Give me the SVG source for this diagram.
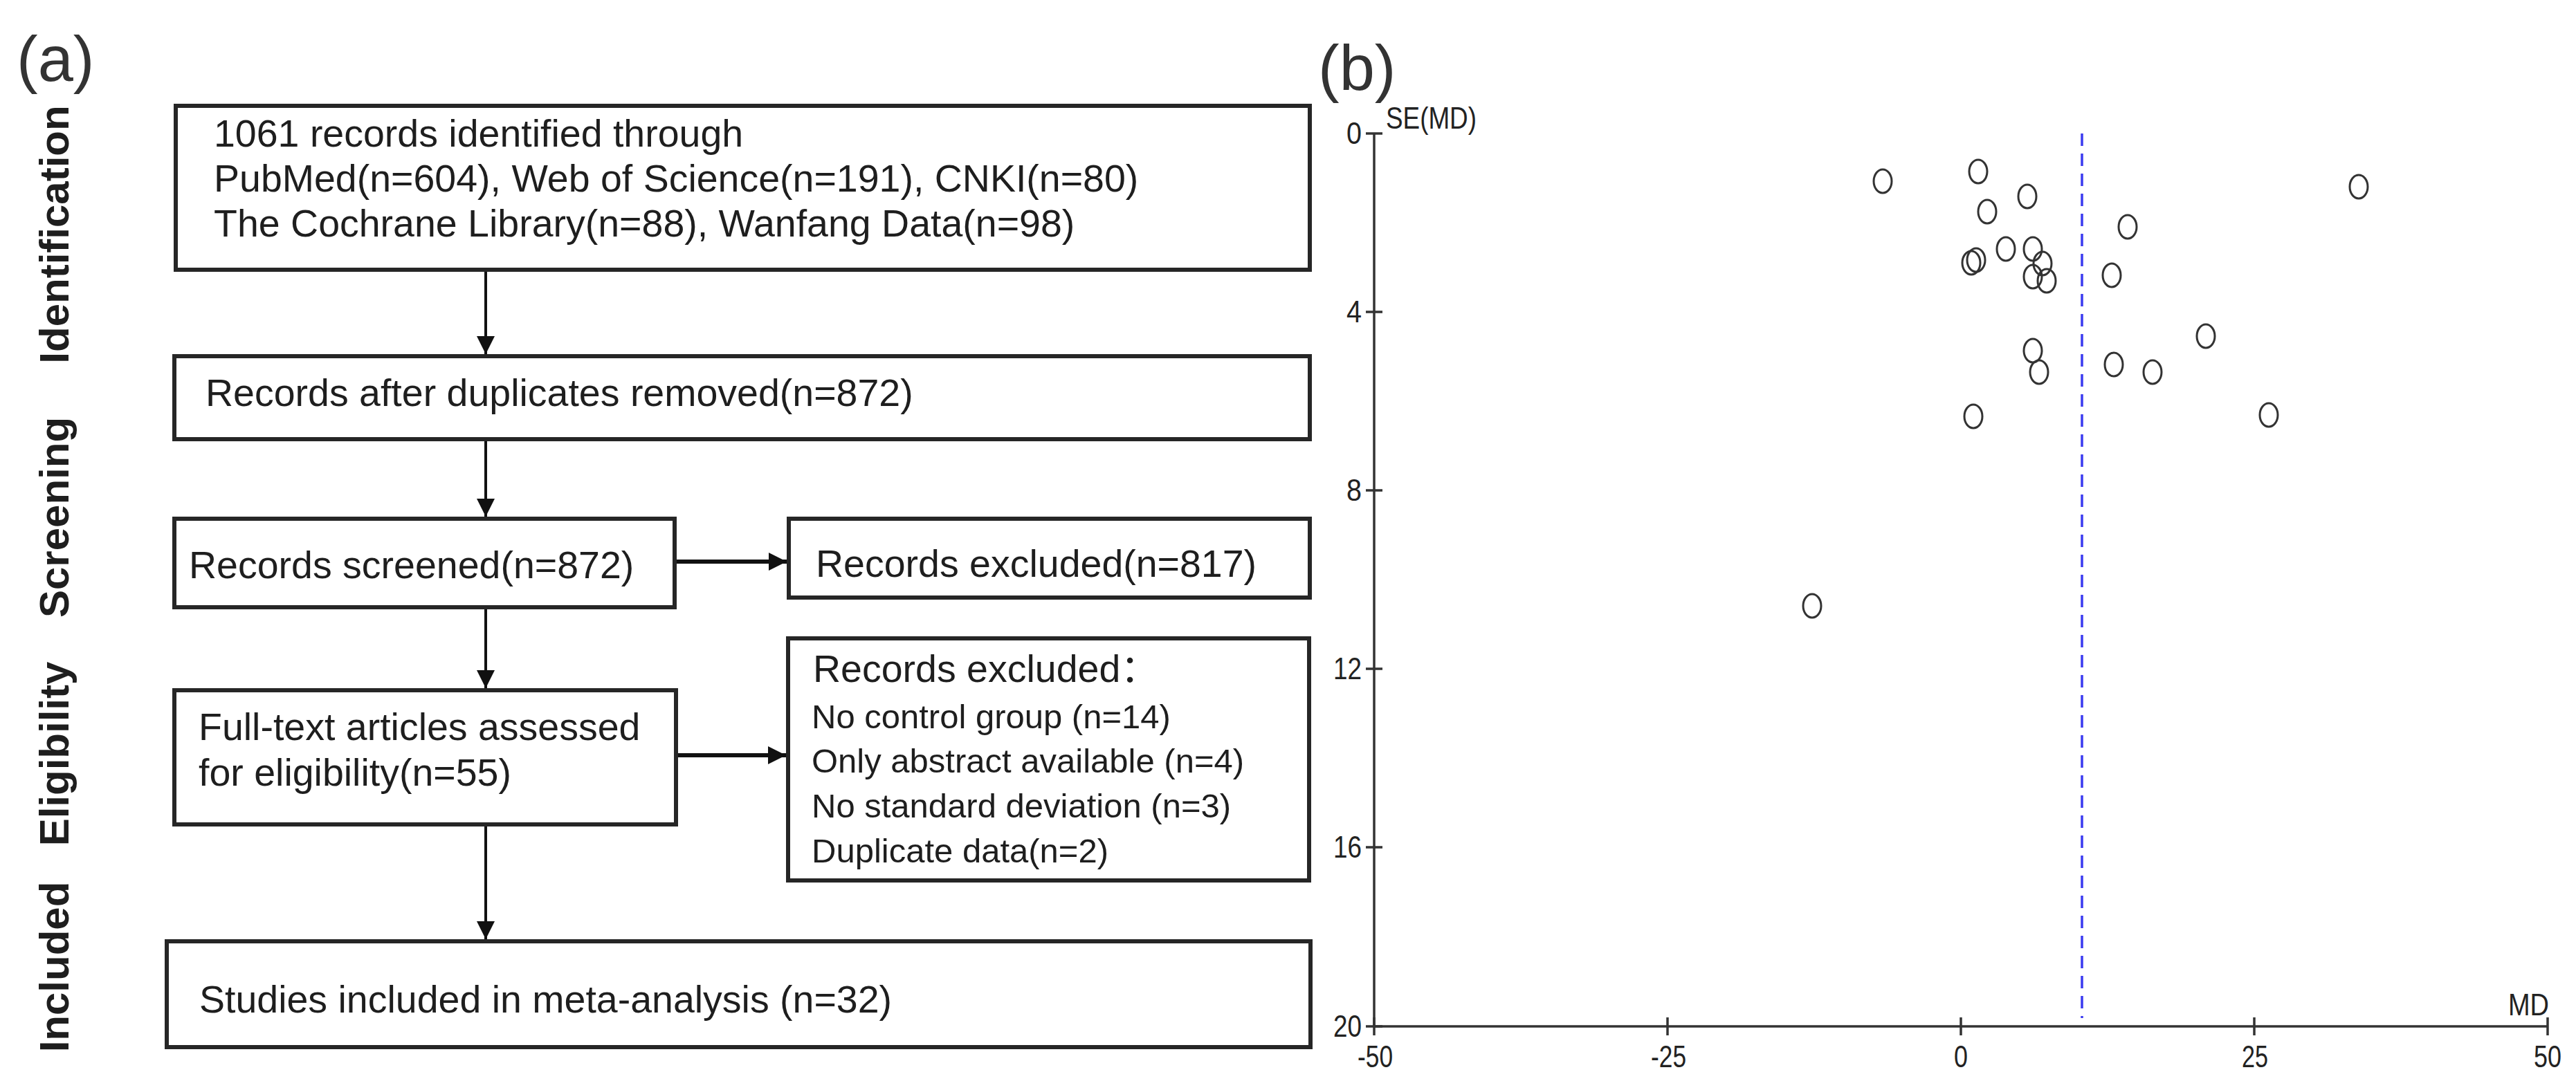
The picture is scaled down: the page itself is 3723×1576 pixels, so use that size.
<svg xmlns="http://www.w3.org/2000/svg" width="3723" height="1576" viewBox="0 0 3723 1576">
<defs>
<style>
.box{fill:#fff;stroke:#262626;stroke-width:6}
.t{font-family:"Liberation Sans",Arial,sans-serif;font-size:55.5px;fill:#1e1e1e}
.s{font-family:"Liberation Sans",Arial,sans-serif;font-size:49px;fill:#1e1e1e}
.stage{font-family:"Liberation Sans",Arial,sans-serif;font-size:60px;font-weight:bold;fill:#1e1e1e;text-anchor:middle}
.panel{font-family:"Liberation Sans",Arial,sans-serif;font-size:92px;fill:#333}
.ax{font-family:"Liberation Sans",Arial,sans-serif;font-size:44px;fill:#222}
.conn{stroke:#111;stroke-width:4;fill:none}
.connh{stroke:#111;stroke-width:6;fill:none}
.axis{stroke:#333;stroke-width:3.5;fill:none}
.pt{fill:none;stroke:#333;stroke-width:3}
</style>
<marker id="ah" viewBox="0 0 10 10" refX="10" refY="5" markerWidth="26" markerHeight="26" markerUnits="userSpaceOnUse" orient="auto">
<path d="M0,0 L10,5 L0,10 z" fill="#111"/>
</marker>
</defs>
<rect width="3723" height="1576" fill="#fff"/>

<!-- panel (a) -->
<text class="panel" x="24" y="117">(a)</text>
<g id="stage-labels">
<text class="stage" x="99" y="339" transform="rotate(-90 99 339)">Identification</text>
<text class="stage" x="99" y="748" transform="rotate(-90 99 748)">Screening</text>
<text class="stage" x="99" y="1090" transform="rotate(-90 99 1090)">Eligibility</text>
<text class="stage" x="99" y="1398" transform="rotate(-90 99 1398)">Included</text>
</g>

<g id="connectors">
<line class="conn" x1="702" y1="390" x2="702" y2="512" marker-end="url(#ah)"/>
<line class="conn" x1="702" y1="635" x2="702" y2="747" marker-end="url(#ah)"/>
<line class="connh" x1="975" y1="812" x2="1137" y2="812" marker-end="url(#ah)"/>
<line class="conn" x1="702" y1="878" x2="702" y2="995" marker-end="url(#ah)"/>
<line class="connh" x1="977" y1="1092" x2="1136" y2="1092" marker-end="url(#ah)"/>
<line class="conn" x1="702" y1="1192" x2="702" y2="1358" marker-end="url(#ah)"/>
</g>

<g id="node-identified">
<rect class="box" x="254" y="153" width="1639" height="237"/>
<text class="t" x="309" y="212">1061 records identified through</text>
<text class="t" x="309" y="277">PubMed(n=604), Web of Science(n=191), CNKI(n=80)</text>
<text class="t" x="309" y="342">The Cochrane Library(n=88), Wanfang Data(n=98)</text>
</g>
<g id="node-duplicates">
<rect class="box" x="252" y="515" width="1641" height="120"/>
<text class="t" x="297" y="587">Records after duplicates removed(n=872)</text>
</g>
<g id="node-screened">
<rect class="box" x="252" y="750" width="723" height="128"/>
<text class="t" x="273" y="836">Records screened(n=872)</text>
</g>
<g id="node-excluded1">
<rect class="box" x="1140" y="750" width="753" height="114"/>
<text class="t" x="1179" y="834">Records excluded(n=817)</text>
</g>
<g id="node-fulltext">
<rect class="box" x="252" y="998" width="725" height="194"/>
<text class="t" x="287" y="1070">Full-text articles assessed</text>
<text class="t" x="287" y="1136">for eligibility(n=55)</text>
</g>
<g id="node-excluded2">
<rect class="box" x="1139" y="923" width="753" height="350"/>
<text class="t" x="1175" y="986">Records excluded<tspan font-family="'Noto Sans CJK SC',sans-serif">：</tspan></text>
<text class="s" x="1173" y="1053">No control group (n=14)</text>
<text class="s" x="1173" y="1117">Only abstract available (n=4)</text>
<text class="s" x="1173" y="1182">No standard deviation (n=3)</text>
<text class="s" x="1173" y="1247">Duplicate data(n=2)</text>
</g>
<g id="node-included">
<rect class="box" x="241" y="1361" width="1653" height="153"/>
<text class="t" x="288" y="1464">Studies included in meta-analysis (n=32)</text>
</g>

<!-- panel (b) funnel plot -->
<text class="panel" x="1905" y="130">(b)</text>
<g id="funnel-axes">
<line class="axis" x1="1986" y1="193" x2="1986" y2="1484"/>
<line class="axis" x1="1986" y1="1484" x2="3682" y2="1484"/>
<path class="axis" d="M1974 193H1998M1974 451H1998M1974 709H1998M1974 967H1998M1974 1225H1998M1974 1484H1998"/>
<path class="axis" d="M1986 1471V1497M2410 1471V1497M2834 1471V1497M3258 1471V1497M3682 1471V1497"/>
<g class="ax">
<text x="1946" y="208" textLength="22" lengthAdjust="spacingAndGlyphs">0</text>
<text x="1946" y="466" textLength="22" lengthAdjust="spacingAndGlyphs">4</text>
<text x="1946" y="724" textLength="22" lengthAdjust="spacingAndGlyphs">8</text>
<text x="1927" y="982" textLength="41" lengthAdjust="spacingAndGlyphs">12</text>
<text x="1927" y="1240" textLength="41" lengthAdjust="spacingAndGlyphs">16</text>
<text x="1927" y="1499" textLength="41" lengthAdjust="spacingAndGlyphs">20</text>
</g>
<g class="ax">
<text x="1962" y="1543" textLength="51" lengthAdjust="spacingAndGlyphs">-50</text>
<text x="2386" y="1543" textLength="51" lengthAdjust="spacingAndGlyphs">-25</text>
<text x="2824" y="1543" textLength="20" lengthAdjust="spacingAndGlyphs">0</text>
<text x="3240" y="1543" textLength="38" lengthAdjust="spacingAndGlyphs">25</text>
<text x="3662" y="1543" textLength="40" lengthAdjust="spacingAndGlyphs">50</text>
</g>
<text class="ax" x="2003" y="186" textLength="131" lengthAdjust="spacingAndGlyphs">SE(MD)</text>
<text class="ax" x="3625" y="1468" textLength="59" lengthAdjust="spacingAndGlyphs">MD</text>
</g>
<line x1="3009" y1="193" x2="3009" y2="1472" stroke="#3a3af0" stroke-width="3.5" stroke-dasharray="18 11"/>
<g id="funnel-points">
<ellipse class="pt" cx="2721" cy="262" rx="13" ry="17"/>
<ellipse class="pt" cx="2859" cy="248" rx="13" ry="17"/>
<ellipse class="pt" cx="2930" cy="284" rx="13" ry="17"/>
<ellipse class="pt" cx="2872" cy="306" rx="13" ry="17"/>
<ellipse class="pt" cx="3075" cy="328" rx="13" ry="17"/>
<ellipse class="pt" cx="3409" cy="270" rx="13" ry="17"/>
<ellipse class="pt" cx="2899" cy="360" rx="13" ry="17"/>
<ellipse class="pt" cx="2938" cy="360" rx="13" ry="17"/>
<ellipse class="pt" cx="2849" cy="380" rx="13" ry="17"/>
<ellipse class="pt" cx="2856" cy="376" rx="13" ry="17"/>
<ellipse class="pt" cx="2952" cy="381" rx="13" ry="17"/>
<ellipse class="pt" cx="2938" cy="400" rx="13" ry="17"/>
<ellipse class="pt" cx="2958" cy="406" rx="13" ry="17"/>
<ellipse class="pt" cx="3052" cy="398" rx="13" ry="17"/>
<ellipse class="pt" cx="3188" cy="486" rx="13" ry="17"/>
<ellipse class="pt" cx="2938" cy="507" rx="13" ry="17"/>
<ellipse class="pt" cx="2947" cy="538" rx="13" ry="17"/>
<ellipse class="pt" cx="3055" cy="527" rx="13" ry="17"/>
<ellipse class="pt" cx="3111" cy="538" rx="13" ry="17"/>
<ellipse class="pt" cx="2852" cy="602" rx="13" ry="17"/>
<ellipse class="pt" cx="3279" cy="600" rx="13" ry="17"/>
<ellipse class="pt" cx="2619" cy="876" rx="13" ry="17"/>
</g>
</svg>
